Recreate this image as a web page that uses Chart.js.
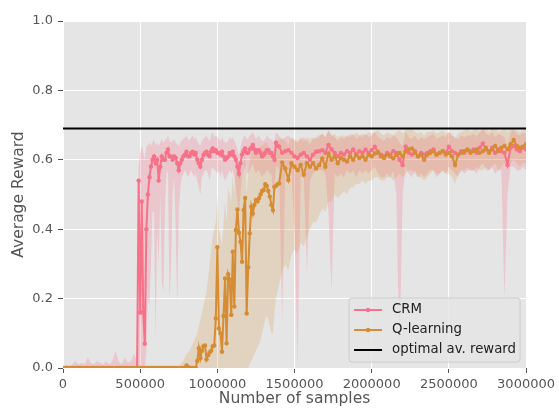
<!DOCTYPE html>
<html>
<head>
<meta charset="utf-8">
<script src="https://cdn.jsdelivr.net/npm/chart.js@4.4.0/dist/chart.umd.min.js"></script>
<style>
  html, body { margin: 0; padding: 0; background: #ffffff; }
  canvas { display: block; }
</style>
</head>
<body>
<canvas id="chartReward" width="559" height="410"></canvas>
<script>
// Number of samples, in thousands (finer grid where the curves jump)
const samplesK = [
  0, 20, 40, 60, 80, 100, 120, 140, 160, 180, 200, 220, 240, 260, 280, 300, 320, 340, 360, 380, 400, 420, 440, 460, 480,
  490, 500, 510, 520, 530, 540, 550, 560, 570, 580,
  590, 600, 610, 620, 630, 640, 650, 660, 670, 680,
  690, 700, 710, 720, 730, 740, 750, 760, 770, 780,
  790, 800, 810, 820, 830, 840, 850, 860, 870, 880,
  890, 900, 910, 920, 930, 940, 950, 960, 970, 980,
  990, 1000, 1010, 1020, 1030, 1040, 1050, 1060, 1070, 1080,
  1090, 1100, 1110, 1120, 1130, 1140, 1150, 1160, 1170, 1180,
  1190, 1200, 1210, 1220, 1230, 1240, 1250, 1260, 1270, 1280,
  1290, 1300, 1310, 1320, 1330, 1340, 1350, 1360, 1370, 1380,
  1390, 1400,
  1420, 1440, 1460, 1480, 1500, 1520, 1540, 1560, 1580, 1600,
  1620, 1640, 1660, 1680, 1700, 1720, 1740, 1760, 1780, 1800,
  1820, 1840, 1860, 1880, 1900, 1920, 1940, 1960, 1980, 2000,
  2020, 2040, 2060, 2080, 2100, 2120, 2140, 2160, 2180, 2200,
  2220, 2240, 2260, 2280, 2300, 2320, 2340, 2360, 2380, 2400,
  2420, 2440, 2460, 2480, 2500, 2520, 2540, 2560, 2580, 2600,
  2620, 2640, 2660, 2680, 2700, 2720, 2740, 2760, 2780, 2800,
  2820, 2840, 2860, 2880, 2900, 2920, 2940, 2960, 2980, 3000
];

// CRM average reward
const crm = [
  0, 0, 0, 0, 0, 0, 0, 0, 0, 0, 0, 0, 0, 0, 0, 0, 0, 0, 0, 0, 0, 0, 0, 0, 0,
  0.54, 0.16, 0.48, 0.16, 0.07, 0.40, 0.50, 0.55, 0.58, 0.60,
  0.61, 0.59, 0.60, 0.54, 0.58, 0.61, 0.60, 0.60, 0.62, 0.63,
  0.61, 0.61, 0.60, 0.61, 0.605, 0.59, 0.57, 0.59, 0.60, 0.61,
  0.615, 0.623, 0.61, 0.61, 0.62, 0.623, 0.615, 0.62, 0.60, 0.59,
  0.58, 0.60, 0.614, 0.62, 0.623, 0.615, 0.61, 0.625, 0.633, 0.625,
  0.628, 0.62, 0.62, 0.615, 0.623, 0.61, 0.60, 0.605, 0.61, 0.62,
  0.615, 0.623, 0.61, 0.60, 0.58, 0.56, 0.59, 0.615, 0.625, 0.633,
  0.62, 0.62, 0.63, 0.635, 0.643, 0.63, 0.62, 0.628, 0.628, 0.62,
  0.61, 0.614, 0.62, 0.628, 0.628, 0.62, 0.62, 0.61, 0.60, 0.649,
  0.64, 0.638,
  0.62, 0.625, 0.628, 0.62, 0.61, 0.605, 0.615, 0.62, 0.61, 0.60,
  0.615, 0.623, 0.625, 0.628, 0.62, 0.643, 0.63, 0.62, 0.61, 0.62,
  0.615, 0.625, 0.62, 0.63, 0.615, 0.625, 0.62, 0.63, 0.62, 0.628,
  0.638, 0.62, 0.615, 0.61, 0.62, 0.615, 0.625, 0.62, 0.60, 0.585,
  0.638, 0.62, 0.615, 0.625, 0.61, 0.62, 0.615, 0.62, 0.625, 0.63,
  0.615, 0.62, 0.625, 0.62, 0.638, 0.625, 0.62, 0.615, 0.625, 0.62,
  0.628, 0.625, 0.63, 0.62, 0.635, 0.647, 0.63, 0.625, 0.635, 0.62,
  0.63, 0.625, 0.62, 0.585, 0.635, 0.64, 0.63, 0.625, 0.635, 0.63
];

// CRM shaded band (lower / upper)
const crmLo = [
  0, 0, 0, 0, 0, 0, 0, 0, 0, 0, 0, 0, 0, 0, 0, 0, 0, 0, 0, 0, 0, 0, 0, 0, 0,
  0, 0, 0, 0, 0, 0.05, 0.2, 0.18, 0.30, 0.45,
  0.45, 0.08, 0.4, 0.3, 0.5, 0.25, 0.22, 0.45, 0.56, 0.57,
  0.2, 0.30, 0.5, 0.55, 0.4, 0.18, 0.45, 0.52, 0.55, 0.56,
  0.57, 0.56, 0.55, 0.56, 0.57, 0.56, 0.55, 0.56, 0.54, 0.52,
  0.5, 0.55, 0.56, 0.57, 0.57, 0.56, 0.54, 0.57, 0.58, 0.57,
  0.57, 0.56, 0.57, 0.55, 0.57, 0.55, 0.54, 0.55, 0.56, 0.57,
  0.56, 0.57, 0.55, 0.52, 0.48, 0.45, 0.5, 0.55, 0.57, 0.58,
  0.56, 0.56, 0.57, 0.58, 0.59, 0.57, 0.56, 0.57, 0.57, 0.56,
  0.55, 0.56, 0.56, 0.57, 0.57, 0.56, 0.56, 0.5, 0.52, 0.58,
  0.58, 0.57,
  0.13, 0.56, 0.57, 0.56, 0.4, 0.0, 0.55, 0.56, 0.27, 0.54,
  0.56, 0.57, 0.57, 0.57, 0.56, 0.45, 0.22, 0.56, 0.55, 0.56,
  0.55, 0.57, 0.56, 0.57, 0.55, 0.57, 0.56, 0.57, 0.56, 0.57,
  0.58, 0.56, 0.55, 0.55, 0.56, 0.55, 0.57, 0.5, 0.02, 0.5,
  0.58, 0.56, 0.55, 0.57, 0.55, 0.56, 0.55, 0.56, 0.57, 0.57,
  0.55, 0.56, 0.57, 0.56, 0.58, 0.57, 0.56, 0.55, 0.57, 0.56,
  0.57, 0.57, 0.57, 0.56, 0.58, 0.59, 0.57, 0.57, 0.58, 0.56,
  0.57, 0.57, 0.2, 0.5, 0.58, 0.58, 0.57, 0.57, 0.58, 0.57
];
const crmHi = [
  0, 0.01, 0.005, 0.01, 0.02, 0.01, 0.015, 0.01, 0.03, 0.015, 0.01, 0.02, 0.015, 0.01, 0.02, 0.01, 0.02, 0.05, 0.02, 0.01, 0.03, 0.015, 0.02, 0.04, 0.02,
  0.58, 0.62, 0.64, 0.62, 0.60, 0.64, 0.64, 0.65, 0.64, 0.65,
  0.66, 0.64, 0.65, 0.64, 0.65, 0.66, 0.65, 0.655, 0.66, 0.67,
  0.655, 0.65, 0.655, 0.66, 0.65, 0.645, 0.64, 0.65, 0.655, 0.66,
  0.665, 0.67, 0.66, 0.655, 0.665, 0.67, 0.66, 0.665, 0.655, 0.645,
  0.64, 0.655, 0.66, 0.665, 0.67, 0.66, 0.655, 0.67, 0.68, 0.665,
  0.67, 0.665, 0.66, 0.655, 0.665, 0.655, 0.65, 0.65, 0.655, 0.665,
  0.66, 0.665, 0.655, 0.645, 0.63, 0.61, 0.635, 0.655, 0.665, 0.67,
  0.66, 0.66, 0.67, 0.675, 0.68, 0.67, 0.66, 0.665, 0.67, 0.66,
  0.655, 0.655, 0.66, 0.67, 0.665, 0.66, 0.66, 0.655, 0.645, 0.68,
  0.675, 0.67,
  0.66, 0.665, 0.67, 0.66, 0.655, 0.65, 0.66, 0.665, 0.655, 0.645,
  0.66, 0.665, 0.67, 0.675, 0.665, 0.685, 0.67, 0.665, 0.655, 0.665,
  0.66, 0.67, 0.665, 0.675, 0.66, 0.67, 0.665, 0.675, 0.665, 0.67,
  0.68, 0.665, 0.66, 0.655, 0.665, 0.66, 0.67, 0.665, 0.65, 0.64,
  0.68, 0.665, 0.66, 0.67, 0.655, 0.665, 0.66, 0.665, 0.67, 0.675,
  0.66, 0.665, 0.67, 0.665, 0.68, 0.67, 0.665, 0.66, 0.67, 0.665,
  0.67, 0.67, 0.675, 0.665, 0.68, 0.69, 0.675, 0.67, 0.68, 0.665,
  0.675, 0.67, 0.665, 0.64, 0.68, 0.685, 0.675, 0.67, 0.68, 0.675
];

// Q-learning average reward
const ql = [
  0, 0, 0, 0, 0, 0, 0, 0, 0, 0, 0, 0, 0, 0, 0, 0, 0, 0, 0, 0, 0, 0, 0, 0, 0,
  0, 0, 0, 0, 0, 0, 0, 0, 0, 0,
  0, 0, 0, 0, 0, 0, 0, 0, 0, 0,
  0, 0, 0, 0, 0, 0, 0, 0, 0, 0,
  0, 0.007, 0.003, 0, 0, 0, 0, 0, 0.02, 0.057,
  0.028, 0.05, 0.063, 0.065, 0.025, 0.037, 0.045, 0.05, 0.063, 0.065,
  0.143, 0.348, 0.114, 0.10, 0.047, 0.15, 0.258, 0.071, 0.27, 0.255,
  0.153, 0.335, 0.177, 0.398, 0.457, 0.39, 0.364, 0.306, 0.455, 0.49,
  0.157, 0.29, 0.388, 0.465, 0.445, 0.47, 0.484, 0.48, 0.489, 0.50,
  0.51, 0.513, 0.53, 0.525, 0.51, 0.494, 0.47, 0.455, 0.522, 0.525,
  0.53, 0.532,
  0.592, 0.575, 0.542, 0.59, 0.58, 0.57, 0.585, 0.557, 0.59, 0.58,
  0.59, 0.575, 0.585, 0.604, 0.58, 0.618, 0.60, 0.61, 0.59, 0.605,
  0.60, 0.595, 0.61, 0.60, 0.615, 0.605, 0.61, 0.60, 0.615, 0.61,
  0.618, 0.623, 0.61, 0.605, 0.615, 0.61, 0.604, 0.615, 0.62, 0.61,
  0.625, 0.63, 0.633, 0.62, 0.61, 0.615, 0.60, 0.615, 0.62, 0.625,
  0.615, 0.62, 0.625, 0.615, 0.62, 0.61, 0.585, 0.615, 0.62, 0.625,
  0.63, 0.62, 0.625, 0.63, 0.62, 0.625, 0.635, 0.62, 0.63, 0.64,
  0.625, 0.635, 0.64, 0.63, 0.645, 0.657, 0.64, 0.635, 0.638, 0.645
];

// Q-learning shaded band (lower / upper)
const qlLo = [
  0, 0, 0, 0, 0, 0, 0, 0, 0, 0, 0, 0, 0, 0, 0, 0, 0, 0, 0, 0, 0, 0, 0, 0, 0,
  0, 0, 0, 0, 0, 0, 0, 0, 0, 0,
  0, 0, 0, 0, 0, 0, 0, 0, 0, 0,
  0, 0, 0, 0, 0, 0, 0, 0, 0, 0,
  0, 0, 0, 0, 0, 0, 0, 0, 0, 0,
  0, 0, 0, 0, 0, 0, 0, 0, 0, 0,
  0, 0, 0, 0, 0, 0, 0, 0, 0, 0,
  0, 0, 0, 0, 0, 0, 0, 0, 0, 0,
  0, 0, 0.01, 0.02, 0.03, 0.04, 0.05, 0.06, 0.07, 0.08,
  0.10, 0.12, 0.14, 0.15, 0.14, 0.12, 0.1, 0.1, 0.16, 0.2,
  0.22, 0.24,
  0.28, 0.3, 0.28, 0.33, 0.34, 0.33, 0.36, 0.35, 0.38, 0.4,
  0.42, 0.42, 0.44, 0.46, 0.45, 0.48, 0.48, 0.5, 0.49, 0.5,
  0.51, 0.5, 0.52, 0.52, 0.53, 0.53, 0.54, 0.53, 0.54, 0.54,
  0.55, 0.55, 0.54, 0.54, 0.55, 0.55, 0.54, 0.55, 0.56, 0.55,
  0.56, 0.57, 0.57, 0.56, 0.55, 0.55, 0.54, 0.55, 0.56, 0.57,
  0.56, 0.56, 0.57, 0.56, 0.56, 0.55, 0.53, 0.56, 0.57, 0.57,
  0.58, 0.57, 0.57, 0.58, 0.57, 0.57, 0.58, 0.57, 0.58, 0.59,
  0.57, 0.58, 0.59, 0.58, 0.59, 0.6, 0.59, 0.58, 0.59, 0.59
];
const qlHi = [
  0, 0, 0, 0, 0, 0, 0, 0, 0, 0, 0, 0, 0, 0, 0, 0, 0, 0, 0, 0, 0, 0, 0, 0, 0,
  0, 0, 0, 0, 0, 0, 0, 0, 0, 0,
  0, 0, 0, 0, 0, 0, 0, 0, 0, 0,
  0, 0, 0, 0, 0, 0, 0.005, 0.01, 0.015, 0.02,
  0.03, 0.04, 0.045, 0.05, 0.06, 0.07, 0.08, 0.09, 0.10, 0.12,
  0.14, 0.16, 0.18, 0.2, 0.22, 0.26, 0.3, 0.34, 0.38, 0.4,
  0.42, 0.5, 0.4, 0.38, 0.35, 0.42, 0.48, 0.42, 0.52, 0.5,
  0.48, 0.56, 0.5, 0.58, 0.6, 0.58, 0.56, 0.55, 0.6, 0.62,
  0.5, 0.56, 0.6, 0.62, 0.62, 0.63, 0.63, 0.63, 0.635, 0.64,
  0.64, 0.645, 0.65, 0.65, 0.64, 0.635, 0.63, 0.62, 0.645, 0.65,
  0.655, 0.66,
  0.66, 0.655, 0.64, 0.665, 0.66, 0.655, 0.665, 0.65, 0.665, 0.66,
  0.665, 0.66, 0.665, 0.675, 0.665, 0.685, 0.67, 0.675, 0.665, 0.67,
  0.67, 0.665, 0.675, 0.67, 0.68, 0.67, 0.675, 0.67, 0.68, 0.675,
  0.68, 0.685, 0.675, 0.67, 0.68, 0.675, 0.67, 0.68, 0.685, 0.675,
  0.685, 0.69, 0.69, 0.68, 0.675, 0.68, 0.67, 0.68, 0.68, 0.685,
  0.675, 0.68, 0.685, 0.675, 0.68, 0.675, 0.66, 0.675, 0.68, 0.685,
  0.69, 0.68, 0.685, 0.69, 0.68, 0.685, 0.69, 0.68, 0.69, 0.695,
  0.68, 0.685, 0.69, 0.68, 0.69, 0.69, 0.685, 0.68, 0.685, 0.69
];

const optimalReward = 0.69;
const xTicks = [0, 500000, 1000000, 1500000, 2000000, 2500000, 3000000];
const yTicks = [0.0, 0.2, 0.4, 0.6, 0.8, 1.0];

const crmColor = '#f77189';
const qlColor = '#d58c32';
const fontFamily = '"DejaVu Sans", sans-serif';

function toPoints(values) {
  return samplesK.map(function(s, i) { return { x: s * 1000, y: values[i] }; });
}

// fond gris du graphe
const plotBackground = {
  id: 'plotBackground',
  beforeDraw(chart) {
    const { ctx, chartArea } = chart;
    ctx.save();
    ctx.fillStyle = '#e5e5e5';
    ctx.fillRect(chartArea.left, chartArea.top, chartArea.right - chartArea.left, chartArea.bottom - chartArea.top);
    ctx.restore();
  }
};

// legende dans le coin bas droit
const boxLegend = {
  id: 'boxLegend',
  afterDraw(chart) {
    const { ctx, chartArea } = chart;
    const w = 171, h = 64;
    const x0 = chartArea.right - 6 - w;
    const y0 = chartArea.bottom - 6 - h;
    const items = [
      { label: 'CRM', color: crmColor, marker: true },
      { label: 'Q-learning', color: qlColor, marker: true },
      { label: 'optimal av. reward', color: '#000000', marker: false }
    ];
    ctx.save();
    ctx.beginPath();
    ctx.roundRect(x0, y0, w, h, 3);
    ctx.fillStyle = 'rgba(229,229,229,0.8)';
    ctx.fill();
    ctx.strokeStyle = '#cccccc';
    ctx.lineWidth = 1;
    ctx.stroke();
    ctx.font = '13.3px ' + fontFamily;
    ctx.textBaseline = 'middle';
    items.forEach(function(it, i) {
      const y = y0 + 12 + i * 20;
      ctx.beginPath();
      ctx.moveTo(x0 + 5, y);
      ctx.lineTo(x0 + 33, y);
      ctx.strokeStyle = it.color;
      ctx.lineWidth = 2;
      ctx.stroke();
      if (it.marker) {
        ctx.beginPath();
        ctx.arc(x0 + 19, y, 2.2, 0, Math.PI * 2);
        ctx.fillStyle = it.color;
        ctx.fill();
      }
      ctx.fillStyle = '#222222';
      ctx.fillText(it.label, x0 + 43, y);
    });
    ctx.restore();
  }
};

const ctxReward = document.getElementById('chartReward');
new Chart(ctxReward, {
  type: 'line',
  data: {
    datasets: [
      {
        label: 'CRM',
        data: toPoints(crm),
        borderColor: crmColor,
        backgroundColor: crmColor,
        borderWidth: 2,
        pointRadius: 2.2,
        pointBorderWidth: 0,
        pointBackgroundColor: crmColor,
        fill: false,
        order: 1
      },
      {
        label: 'Q-learning',
        data: toPoints(ql),
        borderColor: qlColor,
        backgroundColor: qlColor,
        borderWidth: 2,
        pointRadius: 2.2,
        pointBorderWidth: 0,
        pointBackgroundColor: qlColor,
        fill: false,
        order: 0
      },
      {
        label: 'optimal av. reward',
        data: [{ x: 0, y: optimalReward }, { x: 3000000, y: optimalReward }],
        borderColor: '#000000',
        borderWidth: 2,
        pointRadius: 0,
        fill: false,
        order: 2
      },
      {
        label: 'crmLo',
        data: toPoints(crmLo),
        borderColor: 'transparent',
        pointRadius: 0,
        fill: false,
        order: 6
      },
      {
        label: 'crmHi',
        data: toPoints(crmHi),
        borderColor: 'transparent',
        backgroundColor: 'rgba(247,113,137,0.25)',
        pointRadius: 0,
        fill: 3,
        order: 5
      },
      {
        label: 'qlLo',
        data: toPoints(qlLo),
        borderColor: 'transparent',
        pointRadius: 0,
        fill: false,
        order: 4
      },
      {
        label: 'qlHi',
        data: toPoints(qlHi),
        borderColor: 'transparent',
        backgroundColor: 'rgba(213,140,50,0.2)',
        pointRadius: 0,
        fill: 5,
        order: 3
      }
    ]
  },
  options: {
    responsive: false,
    devicePixelRatio: 1,
    animation: false,
    layout: { padding: { top: 21, right: 30, bottom: 0, left: 0 } },
    plugins: {
      legend: { display: false },
      tooltip: { enabled: false }
    },
    elements: { line: { tension: 0 } },
    scales: {
      x: {
        type: 'linear',
        min: 0,
        max: 3000000,
        afterFit: function(scale) { scale.height = 42; },
        afterBuildTicks: function(scale) { scale.ticks = xTicks.map(function(v) { return { value: v }; }); },
        ticks: {
          color: '#555555',
          font: { family: fontFamily, size: 13 },
          padding: 4,
          maxRotation: 0,
          autoSkip: false,
          callback: function(v) { return String(v); }
        },
        grid: { color: '#ffffff', lineWidth: 1, tickColor: '#555555', tickLength: 5 },
        border: { display: false },
        title: {
          display: true,
          text: 'Number of samples',
          color: '#555555',
          font: { family: fontFamily, size: 15.5 },
          padding: { top: 0, bottom: 2 }
        }
      },
      y: {
        min: 0,
        max: 1,
        afterFit: function(scale) { scale.width = 63; },
        afterBuildTicks: function(scale) { scale.ticks = yTicks.map(function(v) { return { value: v }; }); },
        ticks: {
          color: '#555555',
          font: { family: fontFamily, size: 13 },
          padding: 5,
          callback: function(v) { return v.toFixed(1); }
        },
        grid: { color: '#ffffff', lineWidth: 1, tickColor: '#555555', tickLength: 5 },
        border: { display: false },
        title: {
          display: true,
          text: 'Average Reward',
          color: '#555555',
          font: { family: fontFamily, size: 15.5 },
          padding: { top: 10, bottom: 0 }
        }
      }
    }
  },
  plugins: [plotBackground, boxLegend]
});
</script>
</body>
</html>
